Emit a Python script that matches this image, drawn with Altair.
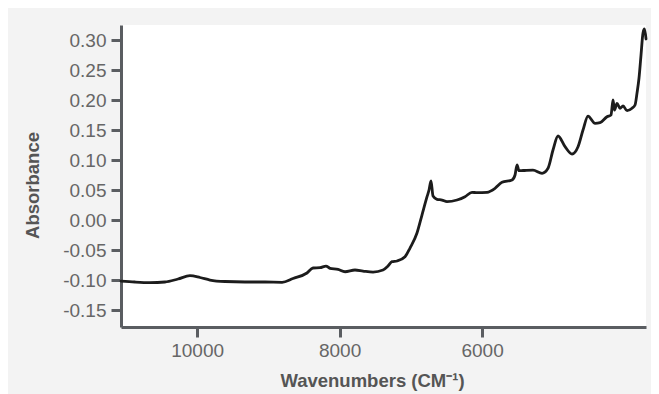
import altair as alt
import pandas as pd

wavenumber = [11068, 10872, 10661, 10451, 10268, 10100, 9959, 9819, 9608, 9328,
              9047, 8808, 8654, 8458, 8373, 8275, 8191, 8135, 8022, 7924,
              7784, 7672, 7531, 7391, 7321, 7265, 7194, 7082, 7012, 6914,
              6844, 6773, 6745, 6717, 6689, 6633, 6563, 6493, 6352, 6240,
              6142, 6072, 5931, 5819, 5721, 5580, 5538, 5510, 5482, 5426,
              5286, 5159, 5075, 5005, 4935, 4836, 4738, 4654, 4584, 4514,
              4415, 4345, 4247, 4191, 4163, 4142, 4107, 4065, 4022, 3966,
              3896, 3854, 3826, 3798, 3770, 3742, 3721, 3700]
absorbance = [-0.1017, -0.1033, -0.1042, -0.1033, -0.0983, -0.0928, -0.0958, -0.1000, -0.1025, -0.1033,
              -0.1033, -0.1038, -0.0975, -0.0883, -0.0800, -0.0795, -0.0767, -0.0805, -0.0822, -0.0862,
              -0.0833, -0.0850, -0.0867, -0.0833, -0.0767, -0.0695, -0.0683, -0.0612, -0.0467, -0.0217,
              0.0083, 0.0388, 0.0500, 0.0650, 0.0400, 0.0345, 0.0333, 0.0305, 0.0333, 0.0388,
              0.0462, 0.0455, 0.0462, 0.0528, 0.0628, 0.0667, 0.0750, 0.0917, 0.0822, 0.0825,
              0.0833, 0.0778, 0.0862, 0.1167, 0.1400, 0.1222, 0.1100, 0.1222, 0.1500, 0.1733,
              0.1612, 0.1622, 0.1722, 0.1750, 0.2000, 0.1833, 0.1945, 0.1862, 0.1900, 0.1822,
              0.1862, 0.1917, 0.2117, 0.2367, 0.2750, 0.3117, 0.3183, 0.3017]

x_ticks = [10000, 8000, 6000]
y_ticks = [-0.15, -0.10, -0.05, 0.00, 0.05, 0.10, 0.15, 0.20, 0.25, 0.30]

df = pd.DataFrame({"wn": wavenumber, "abs": absorbance})

FONT = "Liberation Sans"

chart = alt.Chart(df).mark_line(
    color="#1c1c1c", strokeWidth=2.8, strokeJoin="round", strokeCap="round",
    interpolate="monotone"
).encode(
    x=alt.X("wn:Q",
            scale=alt.Scale(domain=[3700, 11068], reverse=True, nice=False, zero=False),
            axis=alt.Axis(values=x_ticks, format="d", grid=False,
                          title="Wavenumbers (CM⁻¹)",
                          titleX=251, titleY=53, titleBaseline="middle", titleAlign="center",
                          labelPadding=4)),
    y=alt.Y("abs:Q",
            scale=alt.Scale(domain=[-0.1783, 0.325], nice=False, zero=False),
            axis=alt.Axis(values=y_ticks, grid=False,
                          labelExpr="replace(format(datum.value, '.2f'), '\u2212', '-')",
                          title="Absorbance",
                          titleX=-89, titleY=160, titleBaseline="middle", titleAlign="center",
                          titleAngle=270, labelPadding=5)),
    order="wn:Q",
).properties(
    width=525, height=302,
    background="#f3f3f3",
    padding={"left": 113, "top": 17, "right": 5, "bottom": 80},
    autosize=alt.AutoSizeParams(type="none"),
).configure_view(
    fill="white", stroke=None
).configure_axis(
    domainColor="#5a5d61", domainWidth=3,
    tickColor="#5a5d61", tickWidth=3, tickSize=10,
    labelFont=FONT, labelFontSize=19, labelColor="#666666",
    titleFont=FONT, titleFontSize=18.5, titleFontWeight="bold", titleColor="#555555",
)

chart.save("out.html", embed_options={"renderer": "svg", "actions": False})
